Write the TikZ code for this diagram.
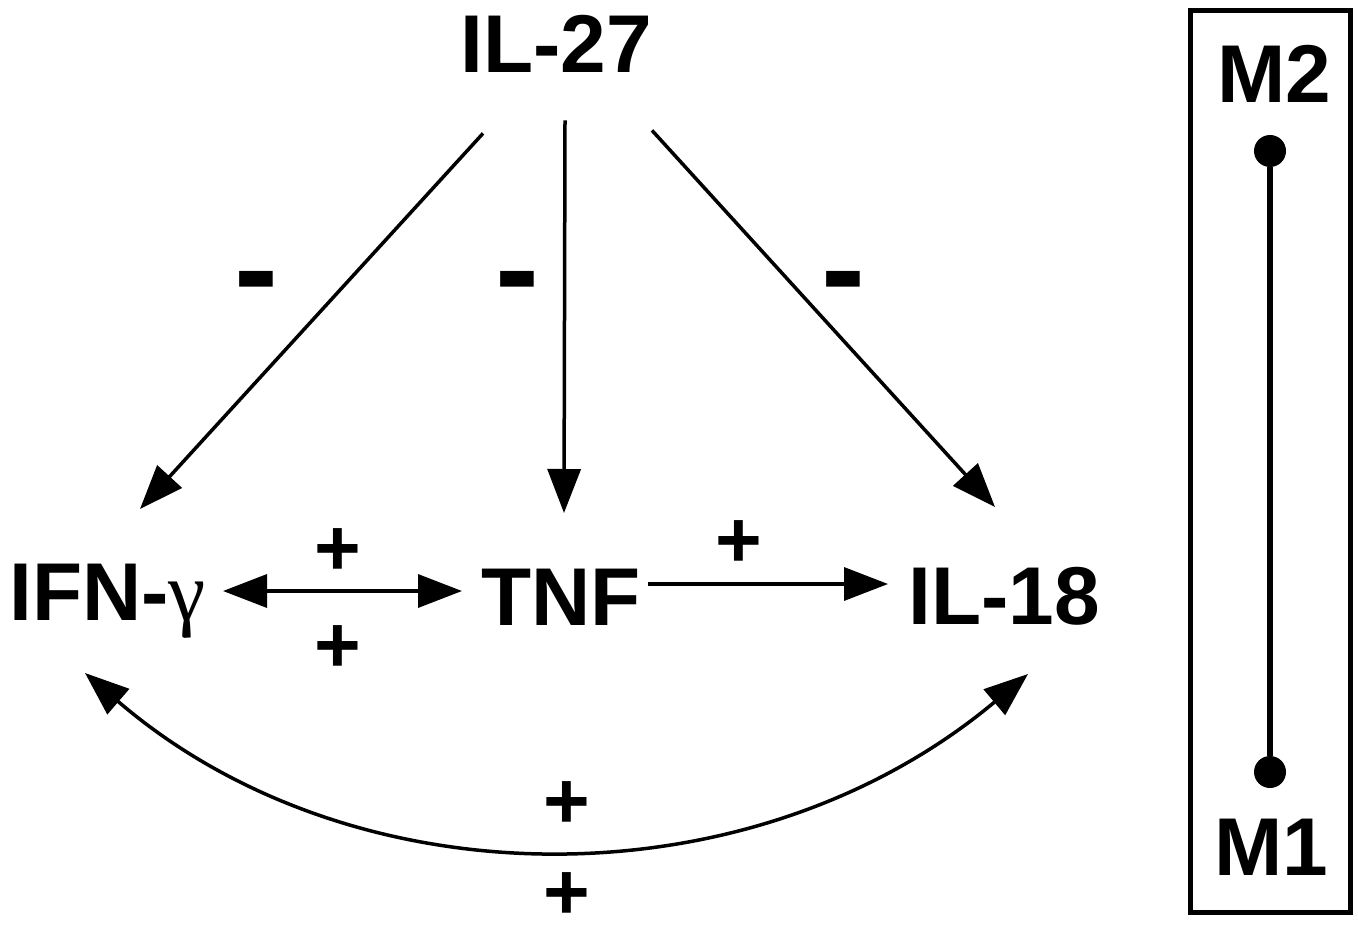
\documentclass[tikz,border=0pt]{standalone}
\usepackage{fontspec}
\setmainfont{Liberation Sans}
\newfontfamily\greekserif{Liberation Serif}
\usetikzlibrary{arrows.meta,calc}
\begin{document}
\begin{tikzpicture}[x=0.5pt,y=-0.5pt,
  lbl/.style={font=\fontsize{41}{41}\selectfont\bfseries, inner sep=0pt, anchor=base},
  sgn/.style={font=\fontsize{40}{40}\selectfont\bfseries, inner sep=0pt},
  neg/.style={font=\fontsize{66}{66}\selectfont\bfseries, inner sep=0pt},
  tip/.tip={Triangle[length=22pt,width=16.5pt]},
  arr/.style={line width=1.75pt, -tip},
  darr/.style={line width=1.75pt, tip-tip},
  dot/.style={circle, fill, inner sep=0pt, minimum size=16pt},
  ]
\useasboundingbox (0,0) rectangle (1358,925);

% main labels
\node[lbl] (il27) at (556,73) {IL-27};
\node[lbl, anchor=base west] (ifn) at (9,620) {IFN-{\greekserif\mdseries\fontsize{42}{42}\selectfont γ}};
\node[lbl] (tnf) at (561,625) {TNF};
\node[lbl] (il18) at (1004,624) {IL-18};

% IL-27 inhibitory arrows
\draw[arr] ($(il27.south)+(-73,60)$) -- ($(ifn.base west)+(131,-111)$);
\draw[arr] ($(il27.south)+(9,47)$) -- ($(tnf.base)+(3,-112)$);
\draw[arr] ($(il27.south)+(96,57)$) -- ($(il18.base)+(-9,-117)$);

\node[neg] (m1) at (256,292) {-};
\node[neg] (m2) at (517,292) {-};
\node[neg] (m3) at (843,292) {-};

% positive interactions
\draw[darr] ($(ifn.base west)+(214,-29)$) -- ($(tnf.base)+(-99,-34)$);
\node[sgn] (p1) at (338,552) {+};
\node[sgn] (p2) at (338,649) {+};

\draw[arr] ($(tnf.base)+(87,-41)$) -- ($(il18.base)+(-116,-40)$);
\node[sgn] (p3) at (739,544) {+};

\draw[darr] ($(ifn.base west)+(76,53)$) .. controls (355,905) and (752,905) .. ($(il18.base)+(24,50)$);
\node[sgn] (p4) at (567,805) {+};
\node[sgn] (p5) at (567,896) {+};

% legend box
\draw[line width=2.5pt] (1190.5,10.5) rectangle (1350.5,912.5);
\node[lbl] (lm2) at (1274,103) {M2};
\node[lbl] (lm1) at (1271,875) {M1};
\node[dot] (d2) at (1270,151) {};
\node[dot] (d1) at (1270,772) {};
\draw[line width=3pt] (d2) -- (d1);
\end{tikzpicture}
\end{document}
